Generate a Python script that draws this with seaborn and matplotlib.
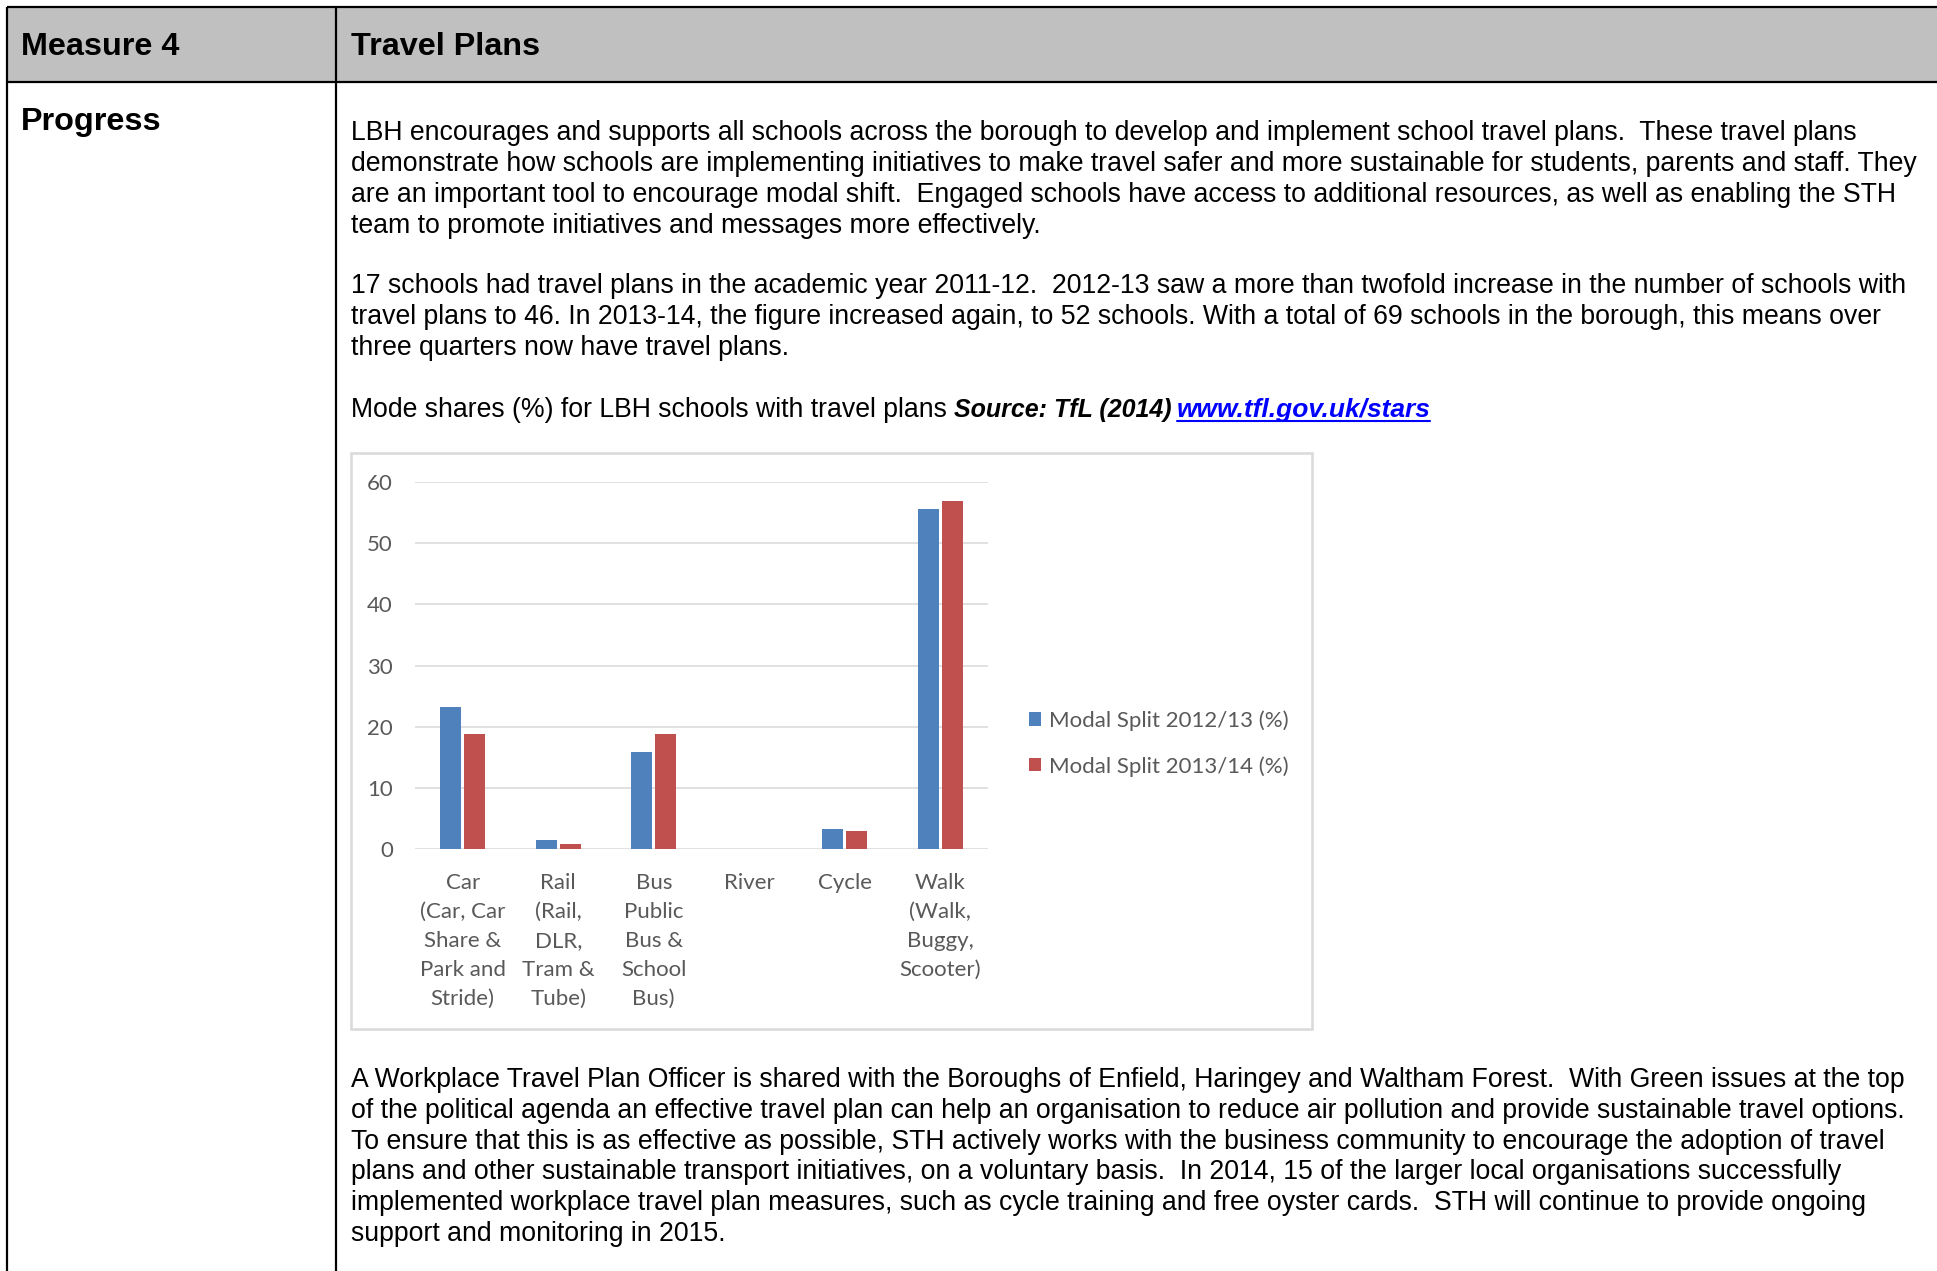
import matplotlib
matplotlib.use("Agg")
import matplotlib.pyplot as plt
import seaborn as sns
import pandas as pd
from matplotlib.lines import Line2D
from matplotlib.patches import Rectangle

# ---------------- data ----------------
categories = [
    "Car\n(Car, Car\nShare &\nPark and\nStride)",
    "Rail\n(Rail,\nDLR,\nTram &\nTube)",
    "Bus\nPublic\nBus &\nSchool\nBus)",
    "River",
    "Cycle",
    "Walk\n(Walk,\nBuggy,\nScooter)",
]
series_names = ["Modal Split 2012/13 (%)", "Modal Split 2013/14 (%)"]
split_2012_13 = [23.2, 1.5, 15.9, 0.0, 3.2, 55.6]
split_2013_14 = [18.8, 0.8, 18.8, 0.0, 3.0, 56.9]
y_ticks = [0, 10, 20, 30, 40, 50, 60]
series_colors = ["#4F81BD", "#C0504D"]

header_left = "Measure 4"
header_right = "Travel Plans"
row_label = "Progress"
para1 = [
    "LBH encourages and supports all schools across the borough to develop and implement school travel plans.  These travel plans",
    "demonstrate how schools are implementing initiatives to make travel safer and more sustainable for students, parents and staff. They",
    "are an important tool to encourage modal shift.  Engaged schools have access to additional resources, as well as enabling the STH",
    "team to promote initiatives and messages more effectively.",
]
para2 = [
    "17 schools had travel plans in the academic year 2011-12.  2012-13 saw a more than twofold increase in the number of schools with",
    "travel plans to 46. In 2013-14, the figure increased again, to 52 schools. With a total of 69 schools in the borough, this means over",
    "three quarters now have travel plans.",
]
caption_plain = "Mode shares (%) for LBH schools with travel plans"
caption_source = "Source: TfL (2014)"
caption_link = "www.tfl.gov.uk/stars"
para3 = [
    "A Workplace Travel Plan Officer is shared with the Boroughs of Enfield, Haringey and Waltham Forest.  With Green issues at the top",
    "of the political agenda an effective travel plan can help an organisation to reduce air pollution and provide sustainable travel options.",
    "To ensure that this is as effective as possible, STH actively works with the business community to encourage the adoption of travel",
    "plans and other sustainable transport initiatives, on a voluntary basis.  In 2014, 15 of the larger local organisations successfully",
    "implemented workplace travel plan measures, such as cycle training and free oyster cards.  STH will continue to provide ongoing",
    "support and monitoring in 2015.",
]

# ---------------- figure ----------------
sns.set_theme(style="white")
plt.rcParams["font.family"] = ["Liberation Sans", "DejaVu Sans"]
plt.rcParams["text.color"] = "black"

W, H = 1937, 1271
fig = plt.figure(figsize=(W / 100, H / 100), dpi=100)
fig.patch.set_facecolor("white")


def fx(x):
    return x / W


def fy(y):
    return 1 - y / H


# table header fill
fig.add_artist(Rectangle((fx(7), fy(82)), 1.0, (82 - 7) / H, transform=fig.transFigure,
                         facecolor="#C0C0C0", edgecolor="none", zorder=0))
lw_tab = 1.6
for (x0, y0, x1, y1) in [(7, 7, W + 5, 7), (7, 82, W + 5, 82), (7, 7, 7, H + 5), (336, 7, 336, H + 5)]:
    fig.add_artist(Line2D([fx(x0), fx(x1)], [fy(y0), fy(y1)], transform=fig.transFigure,
                          color="black", lw=lw_tab, solid_capstyle="butt", zorder=2))

body_fs = 19.2
head_fs = 23.3
fig.text(fx(21), fy(55), header_left, fontsize=head_fs, fontweight="bold", va="baseline", ha="left")
fig.text(fx(351), fy(55), header_right, fontsize=head_fs, fontweight="bold", va="baseline", ha="left")
fig.text(fx(21), fy(130), row_label, fontsize=head_fs, fontweight="bold", va="baseline", ha="left")

tx = 351
for i, line in enumerate(para1):
    fig.text(fx(tx), fy(140 + 30.9 * i), line, fontsize=body_fs, va="baseline", ha="left")
for i, line in enumerate(para2):
    fig.text(fx(tx), fy(293 + 30.9 * i), line, fontsize=body_fs, va="baseline", ha="left")
for i, line in enumerate(para3):
    fig.text(fx(tx), fy(1087 + 30.8 * i), line, fontsize=body_fs, va="baseline", ha="left")

# caption with mixed styles
renderer = fig.canvas.get_renderer()
cap_y = 417
t1 = fig.text(fx(tx), fy(cap_y), caption_plain, fontsize=body_fs, va="baseline", ha="left")
x_next = t1.get_window_extent(renderer).x1 + 7
t2 = fig.text(fx(x_next), fy(cap_y), caption_source, fontsize=18.0, fontweight="bold",
              fontstyle="italic", va="baseline", ha="left")
x_next = t2.get_window_extent(renderer).x1 + 5
t3 = fig.text(fx(x_next), fy(cap_y), caption_link, fontsize=19.0, fontweight="bold",
              fontstyle="italic", color="#0000FF", va="baseline", ha="left")
ext = t3.get_window_extent(renderer)
fig.add_artist(Line2D([fx(ext.x0), fx(ext.x1)], [fy(cap_y + 4), fy(cap_y + 4)], transform=fig.transFigure,
                      color="#0000FF", lw=1.5))

# chart frame
fig.add_artist(Rectangle((fx(351), fy(1029)), (1312 - 351) / W, (1029 - 453) / H, transform=fig.transFigure,
                         facecolor="white", edgecolor="#D9D9D9", lw=1.8, zorder=1))

# chart axes
chart_font = ["Lato", "DejaVu Sans"]
chart_fs = 16
grey = "#595959"
ax = fig.add_axes([fx(415), fy(849), (988 - 415) / W, (849 - 482) / H], zorder=3)
ax.patch.set_alpha(0)

df = pd.DataFrame({
    "Mode": categories * 2,
    "Series": [series_names[0]] * len(categories) + [series_names[1]] * len(categories),
    "Share": split_2012_13 + split_2013_14,
})
sns.barplot(data=df, x="Mode", y="Share", hue="Series", palette=series_colors,
            width=0.5, gap=0.12, linewidth=0, saturation=1, ax=ax, legend=False)

ax.set_ylim(0, 60)
ax.set_xlim(-0.5, len(categories) - 0.5)
ax.set_yticks(y_ticks)
ax.yaxis.grid(True, color="#DEDEDE", lw=1.3)
ax.xaxis.grid(False)
ax.set_axisbelow(True)
for s in ax.spines.values():
    s.set_visible(False)
ax.set_xlabel("")
ax.set_ylabel("")
ax.tick_params(axis="both", length=0, colors=grey)
ax.tick_params(axis="y", pad=16)
ax.tick_params(axis="x", pad=17.5)
for lab in ax.get_yticklabels():
    lab.set_fontfamily(chart_font)
    lab.set_fontsize(chart_fs)
    lab.set_color(grey)
for lab in ax.get_xticklabels():
    lab.set_fontfamily(chart_font)
    lab.set_fontsize(chart_fs)
    lab.set_color(grey)
    lab.set_linespacing(1.55)
    lab.set_multialignment("center")
    lab.set_verticalalignment("top")

handles = [Rectangle((0, 0), 1, 1, facecolor=c, edgecolor="none") for c in series_colors]
fig.legend(handles, series_names, loc="center left", bbox_to_anchor=(fx(1029), fy(743.5)),
           frameon=False, handlelength=0.55, handleheight=0.55, handletextpad=0.35,
           labelspacing=1.13, borderaxespad=0, borderpad=0,
           prop={"family": chart_font, "size": chart_fs}, labelcolor=grey)

fig.savefig("out.png", dpi=100, facecolor="white")
